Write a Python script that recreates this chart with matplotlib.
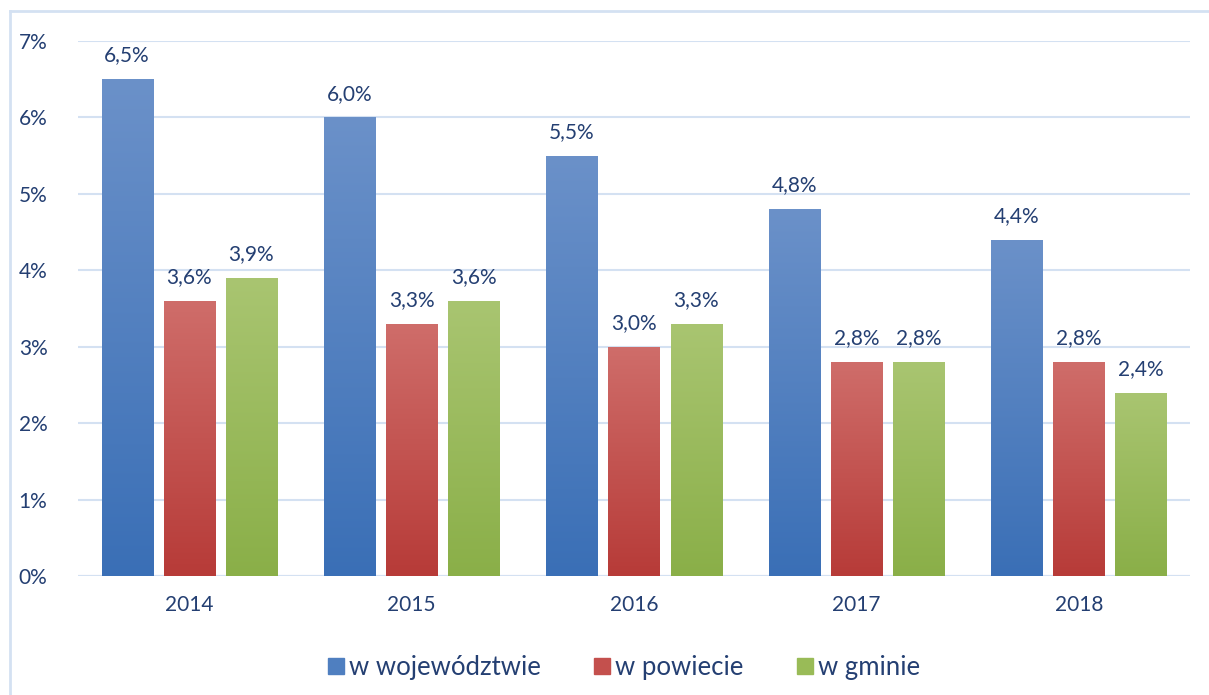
import matplotlib
matplotlib.use("Agg")
import matplotlib.pyplot as plt
import numpy as np
from matplotlib.colors import LinearSegmentedColormap
from matplotlib.lines import Line2D

years = ["2014", "2015", "2016", "2017", "2018"]
series_names = ["w województwie", "w powiecie", "w gminie"]
wojewodztwo = [6.5, 6.0, 5.5, 4.8, 4.4]
powiat = [3.6, 3.3, 3.0, 2.8, 2.8]
gmina = [3.9, 3.6, 3.3, 2.8, 2.4]
series_values = [wojewodztwo, powiat, gmina]
value_labels = [[f"{v:.1f}%".replace(".", ",") for v in s] for s in series_values]
yticks = [0, 1, 2, 3, 4, 5, 6, 7]

grads = [("#6b91c9", "#3a6fb6"), ("#cf6d6a", "#b73b38"), ("#a9c571", "#8aaf48")]
legend_colors = ["#4f7fc0", "#c4504d", "#99bb57"]
text_color = "#243f72"
grid_color = "#d4e1f2"

plt.rcParams['font.family'] = ['Lato', 'DejaVu Sans']

fig = plt.figure(figsize=(12.09, 6.95), dpi=100)
ax = fig.add_axes([78/1209, 1-576/695, (1190-78)/1209, (576-41)/695])

x = np.arange(len(years))
width = 51/222
step = 62/222
offsets = [-step, 0, step]

for si, vals in enumerate(series_values):
    top, bot = grads[si]
    cmap = LinearSegmentedColormap.from_list(f"g{si}", [bot, top])
    grad = np.linspace(0, 1, 256).reshape(-1, 1)
    for i, v in enumerate(vals):
        xc = x[i] + offsets[si]
        bars = ax.bar(xc, v, width=width, color="none", edgecolor="none", zorder=3)
        im = ax.imshow(grad, extent=[xc - width/2, xc + width/2, 0, v], origin="lower",
                       aspect="auto", cmap=cmap, zorder=3)
        im.set_clip_path(bars[0])
        ax.text(xc, v + 0.18, value_labels[si][i], ha="center", va="bottom",
                fontsize=15, color=text_color, zorder=4)

ax.set_xlim(-0.5, 4.5)
ax.set_ylim(0, 7)
ax.set_yticks(yticks)
ax.set_yticklabels([f"{t}%" for t in yticks])
ax.set_xticks(x)
ax.set_xticklabels(years)
ax.tick_params(axis="both", length=0, labelsize=15, labelcolor=text_color)
ax.tick_params(axis="y", pad=22)
ax.tick_params(axis="x", pad=14)
ax.grid(axis="y", color=grid_color, linewidth=1.5, zorder=0)
ax.set_axisbelow(True)
for s in ax.spines.values():
    s.set_visible(False)
ax.axhline(0, color=grid_color, linewidth=1.5, zorder=1)

handles = [Line2D([], [], marker="s", linestyle="none", markersize=12,
                  markerfacecolor=c, markeredgecolor=c) for c in legend_colors]
fig.legend(handles, series_names, loc="center", bbox_to_anchor=(0.514, 1-667/695),
           ncol=3, frameon=False, fontsize=18.5, labelcolor=text_color,
           handletextpad=0.0, columnspacing=1.9, handlelength=1.0)

# outer frame (left and top visible)
fig.add_artist(Line2D([10/1209, 10/1209], [0, 1-11/695], transform=fig.transFigure,
                      color=grid_color, linewidth=2))
fig.add_artist(Line2D([10/1209, 1], [1-11/695, 1-11/695], transform=fig.transFigure,
                      color=grid_color, linewidth=2))

fig.savefig("out.png", dpi=100)
